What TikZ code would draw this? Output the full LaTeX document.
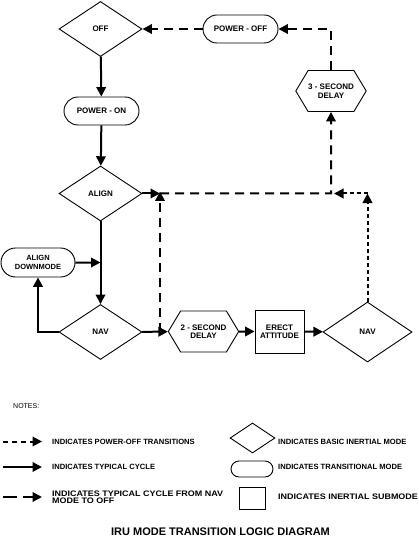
\documentclass[tikz,border=0pt]{standalone}
\usepackage{fontspec}
\setmainfont{Liberation Sans}
\newfontfamily\widesans[FakeStretch=1.12]{Liberation Sans}
\usetikzlibrary{arrows.meta,shapes.geometric,shapes.misc,shapes.symbols}

\begin{document}
\begin{tikzpicture}[x=1pt, y=-1pt,
    lbl/.style = {font=\fontsize{8}{8.5}\selectfont\bfseries, align=center, inner sep=0},
    mode/.style = {lbl, draw, line width=0.9pt, diamond, minimum width=83pt, minimum height=55pt},
    trans/.style = {lbl, draw, line width=0.9pt, rounded rectangle, minimum width=75pt, minimum height=28pt},
    delay/.style = {lbl, draw, line width=0.9pt, signal, signal to=east and west, signal pointer angle=118, minimum width=62pt, minimum height=41pt},
    submode/.style = {lbl, draw, line width=0.9pt, rectangle, minimum width=49pt, minimum height=43pt},
    flow/.style = {line width=2pt, -{Triangle[length=9.5pt,width=9.5pt]}},
    tooff/.style = {flow, dash pattern=on 9pt off 6pt},
    pwroff/.style = {flow, dash pattern=on 4pt off 3pt},
    note/.style = {font=\fontsize{7.6}{7.6}\selectfont\bfseries, anchor=west, inner sep=0, align=left},
    widenote/.style = {note, font=\widesans\fontsize{8}{7.5}\selectfont\bfseries}]
    \useasboundingbox (0,0) rectangle (419,537);

    \node[mode] (off) at (100.5,29) {OFF};
    \node[trans] (poff) at (240.5,29) {POWER - OFF};
    \node[delay] (sec3) at (331,91) {3 - SECOND\\DELAY};
    \node[trans] (pon) at (101.5,111) {POWER - ON};
    \node[mode] (align) at (100.5,193.5) {ALIGN};
    \node[trans, minimum width=74pt, minimum height=29pt, font=\fontsize{7.5}{8.5}\selectfont\bfseries] (down) at (38,262.5) {ALIGN\\DOWNMODE};
    \node[mode] (nav1) at (100.5,332) {NAV};
    \node[delay, minimum width=61pt] (sec2) at (203.5,331.5) {2 - SECOND\\DELAY};
    \node[submode] (erect) at (279.5,331.5) {ERECT\\ATTITUDE};
    \node[mode, minimum width=89pt, minimum height=60pt] (nav2) at (367.5,332) {NAV};

    \coordinate (j1) at (160,193.5);
    \coordinate (j2) at (331,193.5);
    \coordinate (j3) at (367.5,193.5);
    \coordinate (j4) at (160,332);

    \draw[flow] (off) -- (pon);
    \draw[flow] (pon) -- (align);
    \draw[flow] (align) -- (nav1);
    \draw[flow] (down) -- (down -| align);
    \draw[flow] (nav1.west) -| (down);
    \draw[flow] (nav1) -- (sec2);
    \draw[flow] (sec2) -- (erect);
    \draw[flow] (erect) -- (nav2);

    \draw[tooff] (align.east) -- (j1);
    \draw[tooff] (j4) -- ([yshift=2pt]j1);
    \draw[tooff] (j1) -- (j2) -- (sec3);
    \draw[tooff] (sec3) |- (poff);
    \draw[tooff] (poff) -- (off);

    \draw[pwroff] (nav2) -- (j3);
    \draw[pwroff] (j3) -- ([xshift=3pt]j2);

    \node[font=\fontsize{7}{7}\selectfont, anchor=west, inner sep=0] (notes) at (13,406) {NOTES:};

    \coordinate (k1) at (3,441.5);
    \coordinate (k2) at (3,467);
    \coordinate (k3) at (3,497);
    \draw[pwroff, dash pattern=on 5pt off 4pt] (k1) -- ++(39,0);
    \draw[flow] (k2) -- ++(39,0);
    \draw[flow, dash pattern=on 14pt off 6pt] (k3) -- ++(39,0);
    \node[note] (t1) at (52,441.5) {INDICATES POWER-OFF TRANSITIONS};
    \node[note] (t2) at (52,467) {INDICATES TYPICAL CYCLE};
    \node[widenote] (t3) at (52,497) {INDICATES TYPICAL CYCLE FROM NAV\\MODE TO OFF};

    \node[mode, minimum width=45pt, minimum height=30pt] (kmode) at (252.5,438) {};
    \node[trans, minimum width=42pt, minimum height=16pt] (ktrans) at (252,469) {};
    \node[submode, minimum width=26pt, minimum height=22pt] (ksub) at (252,498) {};
    \node[note] (t4) at (278,441.5) {INDICATES BASIC INERTIAL MODE};
    \node[note] (t5) at (278,467) {INDICATES TRANSITIONAL MODE};
    \node[widenote] (t6) at (278,497) {INDICATES INERTIAL SUBMODE};

    \node[font=\fontsize{11}{11}\selectfont\bfseries, inner sep=0] (title) at (220.5,532) {IRU MODE TRANSITION LOGIC DIAGRAM};
\end{tikzpicture}
\end{document}
